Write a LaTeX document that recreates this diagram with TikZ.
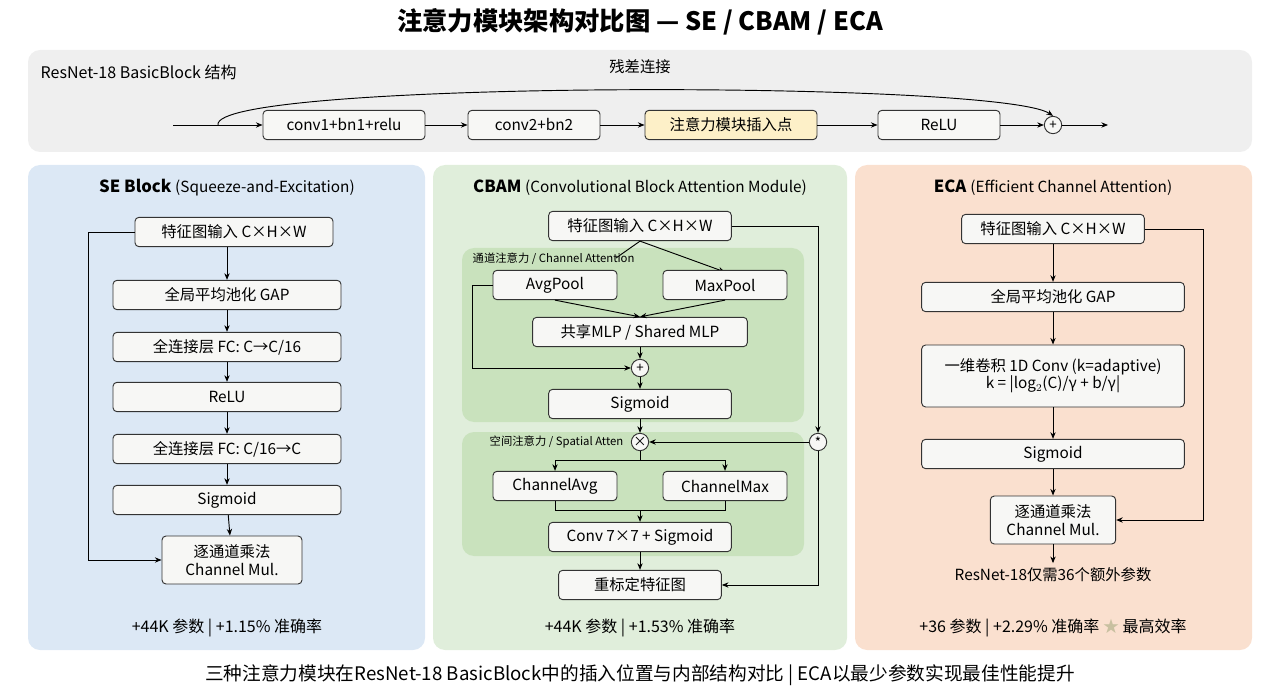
\documentclass[tikz,border=0pt]{standalone}
\usepackage{fontspec}
\setmainfont{Noto Sans CJK SC}
\usetikzlibrary{arrows.meta}
\definecolor{topbg}{HTML}{EFEFEF}
\definecolor{sebg}{HTML}{DCE8F5}
\definecolor{cbbg}{HTML}{E0EEDB}
\definecolor{cbsub}{HTML}{C9E2BD}
\definecolor{ecabg}{HTML}{FAE0CF}
\definecolor{insfill}{HTML}{FDF0C8}
\definecolor{boxfill}{HTML}{F7F7F5}
\tikzset{
    box/.style={draw=black!80, fill=boxfill, rounded corners=3pt, line width=0.7pt,
        minimum height=22pt, inner sep=1pt, align=center, font=\fontsize{11.5}{13}\selectfont},
    panel/.style={rounded corners=9pt, draw=none},
    op/.style={draw=black!80, fill=boxfill, circle, line width=0.7pt, inner sep=0pt,
        minimum size=13pt, font=\fontsize{10}{10}\selectfont},
    arr/.style={-{Stealth[length=5pt,width=4pt]}, line width=0.7pt},
    ln/.style={line width=0.7pt}
}
\begin{document}
\begin{tikzpicture}[x=0.75pt,y=-0.75pt]
    \useasboundingbox (0,0) rectangle (1280,698);

    % Title
    \node [font=\fontsize{19}{21}\bfseries\selectfont] (title) at (640,22) {注意力模块架构对比图 — SE / CBAM / ECA};

    % ResNet-18 BasicBlock
    \fill [panel, fill=topbg] (28,50) rectangle (1252,152);
    \node [anchor=west, font=\fontsize{12}{14}\selectfont] (rtitle) at (36,72) {ResNet-18 BasicBlock 结构};
    \coordinate (rin) at (173,125);
    \coordinate (rsplit) at (218,125);
    \node [box, minimum width=121.5pt] (conv1) at (344,125) {conv1+bn1+relu};
    \node [box, minimum width=99pt] (conv2) at (534,125) {conv2+bn2};
    \node [box, minimum width=129pt, fill=insfill] (ins) at (731,125) {注意力模块插入点};
    \node [box, minimum width=91.5pt] (relu) at (939,125) {ReLU};
    \node [op] (radd) at (1053,125) {+};
    \coordinate (rout) at (1108,125);
    \draw [arr] (rin) -- (conv1);
    \draw [arr] (conv1) -- (conv2);
    \draw [arr] (conv2) -- (ins);
    \draw [arr] (ins) -- (relu);
    \draw [arr] (relu) -- (radd);
    \draw [arr] (radd) -- (rout);
    \draw [arr] (rsplit) .. controls (210,80) and (1000,80) .. (radd.north);
    \node [font=\fontsize{11.5}{13}\selectfont] (reslab) at (640,67) {残差连接};

    % Panels
    \fill [panel, fill=sebg] (28,165) rectangle (425,650);
    \fill [panel, fill=cbbg] (433,165) rectangle (847,650);
    \fill [panel, fill=ecabg] (855,165) rectangle (1252,650);

    % SE Block
    \node [font=\fontsize{12.5}{14}\selectfont] (setitle) at (227,188) {\textbf{SE Block} {\fontsize{11.5}{13}\selectfont(Squeeze-and-Excitation)}};
    \node [box, minimum width=148.5pt] (sein) at (234,232) {特征图输入 C×H×W};
    \node [box, minimum width=171pt] (segap) at (227,295) {全局平均池化 GAP};
    \node [box, minimum width=171pt] (sefc1) at (227,347) {全连接层 FC: C→C/16};
    \node [box, minimum width=171pt] (serelu) at (227,397) {ReLU};
    \node [box, minimum width=171pt] (sefc2) at (227,449) {全连接层 FC: C/16→C};
    \node [box, minimum width=171pt] (sesig) at (227,500) {Sigmoid};
    \node [box, minimum width=105pt, minimum height=36pt] (semul) at (232,560) {逐通道乘法\\Channel Mul.};
    \draw [arr] (sein.south -| segap) -- (segap);
    \draw [arr] (segap) -- (sefc1);
    \draw [arr] (sefc1) -- (serelu);
    \draw [arr] (serelu) -- (sefc2);
    \draw [arr] (sefc2) -- (sesig);
    \draw [arr] (sesig) -- (semul);
    \draw [arr] (sein.west) -- (88,232) |- (semul.west);
    \node [font=\fontsize{12}{14}\selectfont] (sestat) at (227,628) {+44K 参数 | +1.15\% 准确率};

    % CBAM
    \node [font=\fontsize{12.5}{14}\selectfont] (cbtitle) at (640,188) {\textbf{CBAM} {\fontsize{11.5}{13}\selectfont(Convolutional Block Attention Module)}};
    \fill [panel, fill=cbsub] (462,248) rectangle (804,422);
    \fill [panel, fill=cbsub] (462,432) rectangle (804,556);
    \node [box, minimum width=137pt] (cbin) at (640,226) {特征图输入 C×H×W};
    \draw [arr] (cbin.south) -- (725,272);
    \draw [ln] (cbin.south) -- (616,258);
    \node [anchor=west, font=\fontsize{8.5}{10}\selectfont] (calab) at (468,259) {通道注意力 / Channel Attention};
    \node [box, minimum width=93pt] (avgp) at (555,285) {AvgPool};
    \node [box, minimum width=93pt] (maxp) at (725,285) {MaxPool};
    \node [box, minimum width=161pt] (mlp) at (640,332) {共享MLP / Shared MLP};
    \node [op] (cadd) at (640,368) {+};
    \node [box, minimum width=137pt] (casig) at (640,404) {Sigmoid};
    \draw [arr] (avgp.south) -- (mlp.north);
    \draw [arr] (maxp.south) -- (mlp.north);
    \draw [arr] (mlp) -- (cadd);
    \draw [arr] (avgp.west) -- (472,285) |- (cadd.west);
    \draw [arr] (cadd) -- (casig);
    \node [op] (cmul) at (640,442) {×};
    \node [op] (cstar) at (818,442) {*};
    \node [anchor=east, font=\fontsize{8.5}{10}\selectfont] (salab) at (628,442) {空间注意力 / Spatial Atten};
    \draw [arr] (casig) -- (cmul);
    \draw [arr] (cbin.east) -- (818,226) -- (cstar.north);
    \draw [arr] (cstar) -- (cmul);
    \node [box, minimum width=93pt] (chavg) at (555,486) {ChannelAvg};
    \node [box, minimum width=93pt] (chmax) at (725,486) {ChannelMax};
    \node [box, minimum width=137pt] (conv7) at (640,537) {Conv 7×7 + Sigmoid};
    \node [box, minimum width=122pt] (cbout) at (640,585) {重标定特征图};
    \draw [ln] (cmul.south) -- (640,460);
    \draw [arr] (555,460) -- (725,460) -- (chmax.north);
    \draw [arr] (555,460) -- (chavg.north);
    \draw [ln] (chavg.south) -- (555,510) -- (725,510) -- (chmax.south);
    \draw [arr] (640,510) -- (conv7.north);
    \draw [arr] (conv7) -- (cbout);
    \draw [arr] (cstar.south) |- (cbout.east);
    \node [font=\fontsize{12}{14}\selectfont] (cbstat) at (640,628) {+44K 参数 | +1.53\% 准确率};

    % ECA
    \node [font=\fontsize{12.5}{14}\selectfont] (ecatitle) at (1053,188) {\textbf{ECA} {\fontsize{11.5}{13}\selectfont(Efficient Channel Attention)}};
    \node [box, minimum width=137pt] (ecain) at (1053,229) {特征图输入 C×H×W};
    \node [box, minimum width=197pt] (ecagap) at (1053,297) {全局平均池化 GAP};
    \node [box, minimum width=197pt, minimum height=46.5pt] (ecaconv) at (1053,376) {一维卷积 1D Conv (k=adaptive)\\k = |log$_2$(C)/γ + b/γ|};
    \node [box, minimum width=197pt] (ecasig) at (1053,454) {Sigmoid};
    \node [box, minimum width=94pt, minimum height=36pt] (ecamul) at (1053,520) {逐通道乘法\\Channel Mul.};
    \node [font=\fontsize{11.5}{13}\selectfont] (ecanote) at (1053,575) {ResNet-18仅需36个额外参数};
    \draw [arr] (ecain) -- (ecagap);
    \draw [arr] (ecagap) -- (ecaconv);
    \draw [arr] (ecaconv) -- (ecasig);
    \draw [arr] (ecasig) -- (ecamul);
    \draw [arr] (ecamul) -- (ecanote);
    \draw [arr] (ecain.east) -- (1203,229) |- (ecamul.east);
    \node [font=\fontsize{12}{14}\selectfont] (ecastat) at (1053,628) {+36 参数 | +2.29\% 准确率 {\color[HTML]{C8C0A0}★} 最高效率};

    % Footer
    \node [font=\fontsize{14}{16}\selectfont] (footer) at (640,675) {三种注意力模块在ResNet-18 BasicBlock中的插入位置与内部结构对比 | ECA以最少参数实现最佳性能提升};
\end{tikzpicture}
\end{document}
